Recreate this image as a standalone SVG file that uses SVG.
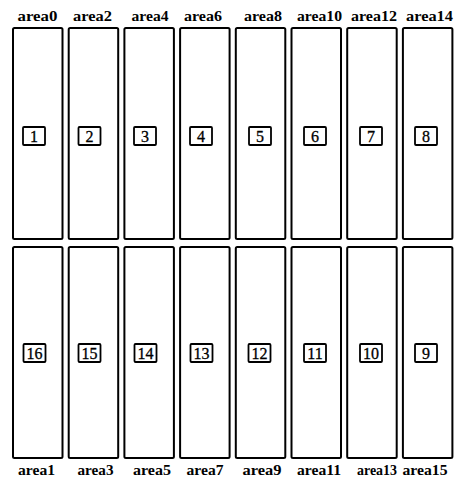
<svg xmlns="http://www.w3.org/2000/svg" width="457" height="479" viewBox="0 0 457 479">
<style>
.area{fill:#fff;stroke:#000;stroke-width:2}
.box{fill:#fff;stroke:#000;stroke-width:1.8}
.lbl{font-family:"Liberation Serif","Times New Roman",serif;font-size:14px;font-weight:bold;text-anchor:middle;fill:#000}
.num{font-family:"Liberation Serif","Times New Roman",serif;font-size:16px;text-anchor:middle;fill:#000;stroke:#000;stroke-width:0.3}
</style>
<rect width="457" height="479" fill="#fff"/>
<g id="connectors"></g>
<g id="area0"><text class="lbl" x="37.5" y="21" textLength="40" lengthAdjust="spacingAndGlyphs">area0</text><rect class="area" x="13" y="28" width="49.5" height="211" rx="1.5"/><rect class="box" x="23" y="127" width="22" height="18" rx="1"/><text class="num" x="34" y="141.5">1</text></g>
<g id="area2"><text class="lbl" x="92.5" y="21" textLength="39" lengthAdjust="spacingAndGlyphs">area2</text><rect class="area" x="68.7" y="28" width="49.5" height="211" rx="1.5"/><rect class="box" x="78.5" y="127" width="22" height="18" rx="1"/><text class="num" x="89.5" y="141.5">2</text></g>
<g id="area4"><text class="lbl" x="150" y="21" textLength="37" lengthAdjust="spacingAndGlyphs">area4</text><rect class="area" x="124.4" y="28" width="49.5" height="211" rx="1.5"/><rect class="box" x="134" y="127" width="22" height="18" rx="1"/><text class="num" x="145" y="141.5">3</text></g>
<g id="area6"><text class="lbl" x="203" y="21" textLength="38" lengthAdjust="spacingAndGlyphs">area6</text><rect class="area" x="180.1" y="28" width="49.5" height="211" rx="1.5"/><rect class="box" x="190" y="127" width="22" height="18" rx="1"/><text class="num" x="201" y="141.5">4</text></g>
<g id="area8"><text class="lbl" x="263" y="21" textLength="38" lengthAdjust="spacingAndGlyphs">area8</text><rect class="area" x="235.8" y="28" width="49.5" height="211" rx="1.5"/><rect class="box" x="249" y="127" width="22" height="18" rx="1"/><text class="num" x="260" y="141.5">5</text></g>
<g id="area10"><text class="lbl" x="319.5" y="21" textLength="45" lengthAdjust="spacingAndGlyphs">area10</text><rect class="area" x="291.5" y="28" width="49.5" height="211" rx="1.5"/><rect class="box" x="304" y="127" width="22" height="18" rx="1"/><text class="num" x="315" y="141.5">6</text></g>
<g id="area12"><text class="lbl" x="374" y="21" textLength="46" lengthAdjust="spacingAndGlyphs">area12</text><rect class="area" x="347.2" y="28" width="49.5" height="211" rx="1.5"/><rect class="box" x="360" y="127" width="22" height="18" rx="1"/><text class="num" x="371" y="141.5">7</text></g>
<g id="area14"><text class="lbl" x="429.5" y="21" textLength="47" lengthAdjust="spacingAndGlyphs">area14</text><rect class="area" x="402.9" y="28" width="49.5" height="211" rx="1.5"/><rect class="box" x="415" y="127" width="22" height="18" rx="1"/><text class="num" x="426" y="141.5">8</text></g>
<g id="area1"><rect class="area" x="13" y="247" width="49.5" height="211" rx="1.5"/><rect class="box" x="23.5" y="344" width="22" height="18" rx="1"/><text class="num" x="34.5" y="358.5">16</text><text class="lbl" x="36.5" y="475" textLength="37" lengthAdjust="spacingAndGlyphs">area1</text></g>
<g id="area3"><rect class="area" x="68.7" y="247" width="49.5" height="211" rx="1.5"/><rect class="box" x="78.5" y="344" width="22" height="18" rx="1"/><text class="num" x="89.5" y="358.5">15</text><text class="lbl" x="95.5" y="475" textLength="36" lengthAdjust="spacingAndGlyphs">area3</text></g>
<g id="area5"><rect class="area" x="124.4" y="247" width="49.5" height="211" rx="1.5"/><rect class="box" x="134.5" y="344" width="22" height="18" rx="1"/><text class="num" x="145.5" y="358.5">14</text><text class="lbl" x="152" y="475" textLength="38" lengthAdjust="spacingAndGlyphs">area5</text></g>
<g id="area7"><rect class="area" x="180.1" y="247" width="49.5" height="211" rx="1.5"/><rect class="box" x="190.5" y="344" width="22" height="18" rx="1"/><text class="num" x="201.5" y="358.5">13</text><text class="lbl" x="205" y="475" textLength="37" lengthAdjust="spacingAndGlyphs">area7</text></g>
<g id="area9"><rect class="area" x="235.8" y="247" width="49.5" height="211" rx="1.5"/><rect class="box" x="248.5" y="344" width="22" height="18" rx="1"/><text class="num" x="259.5" y="358.5">12</text><text class="lbl" x="262" y="475" textLength="39" lengthAdjust="spacingAndGlyphs">area9</text></g>
<g id="area11"><rect class="area" x="291.5" y="247" width="49.5" height="211" rx="1.5"/><rect class="box" x="304" y="344" width="22" height="18" rx="1"/><text class="num" x="315" y="358.5">11</text><text class="lbl" x="319" y="475" textLength="44" lengthAdjust="spacingAndGlyphs">area11</text></g>
<g id="area13"><rect class="area" x="347.2" y="247" width="49.5" height="211" rx="1.5"/><rect class="box" x="360" y="344" width="22" height="18" rx="1"/><text class="num" x="371" y="358.5">10</text><text class="lbl" x="377" y="475" textLength="40" lengthAdjust="spacingAndGlyphs">area13</text></g>
<g id="area15"><rect class="area" x="402.9" y="247" width="49.5" height="211" rx="1.5"/><rect class="box" x="415" y="344" width="22" height="18" rx="1"/><text class="num" x="426" y="358.5">9</text><text class="lbl" x="425" y="475" textLength="45" lengthAdjust="spacingAndGlyphs">area15</text></g>
</svg>
